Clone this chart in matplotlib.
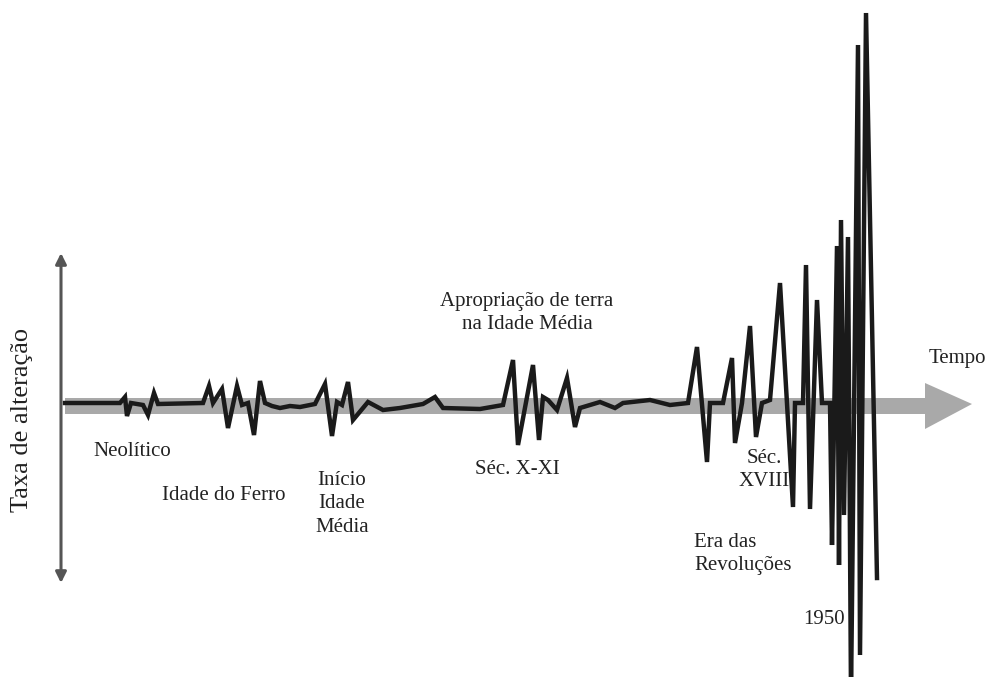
import matplotlib.pyplot as plt

## Data: time position (horizontal) and rate of change (above/below the time axis)
tempo = [65, 120, 125, 127, 131, 143, 148, 154, 158, 203,
         209, 213, 222, 228, 237, 242, 248, 254, 260, 265,
         272, 280, 290, 300, 315, 325, 332, 337, 342, 348,
         353, 368, 383, 400, 423, 435, 443, 480, 503, 513,
         518, 533, 539, 543, 548, 557, 567, 575, 580, 600,
         615, 623, 650, 670, 688, 697, 707, 710, 723, 732,
         735, 742, 750, 756, 762, 770, 780, 793, 795, 803,
         806, 810, 817, 822, 830, 832, 837, 839, 841, 844,
         848, 851, 858, 860, 866, 877]
taxa = [2, 2, 8, -11, 2, 0, -10, 12, 1, 2,
        19, 2, 16, -23, 19, 0, 2, -30, 24, 2,
        -1, -3, -1, -2, 1, 21, -31, 3, 0, 23,
        -15, 3, -5, -3, 1, 8, -3, -4, 0, 45,
        -40, 40, -35, 8, 5, -5, 27, -22, -3, 3,
        -3, 2, 5, 0, 2, 58, -57, 2, 2, 47,
        -38, 2, 79, -32, 2, 5, 122, -102, 2, 2,
        140, -104, 105, 2, 2, -140, 159, -160, 185, -110,
        168, -290, 360, -250, 392, -173]

rotulos = ['Neolítico', 'Idade do Ferro', 'Início\nIdade\nMédia',
           'Apropriação de terra\nna Idade Média', 'Séc. X-XI',
           'Séc.\nXVIII', 'Era das\nRevoluções', '1950', 'Tempo']
rotulo_x = [132, 224, 342, 527, 517, 764, 694, 824, 957]
rotulo_y = [-47, -91, -99, 92, -64, -65, -149, -215, 47]

## Plot
fig = plt.figure(figsize=(9.88, 6.77), dpi=100)
ax = fig.add_axes([0, 0, 1, 1])
ax.set_xlim(0, 988)
ax.set_ylim(-272, 405)
ax.axis('off')

# gray time arrow
corpo = 8
cab = 23
ax.fill([65, 925, 925, 972, 925, 925, 65],
        [-1 + corpo, -1 + corpo, -1 + cab, 1, -1 - cab, -1 - corpo, -1 - corpo],
        color='#a9a9a9', zorder=1, lw=0)

# vertical double arrow
ax.annotate('', xy=(61, 152), xytext=(61, -178),
            arrowprops=dict(arrowstyle='<|-|>', color='#555555', lw=2.2,
                            mutation_scale=16, shrinkA=0, shrinkB=0))

ax.plot(tempo, taxa, color='#1a1a1a', lw=3.2, solid_joinstyle='miter', zorder=2)

fonte = 'Liberation Serif'
for txt, x, y in zip(rotulos, rotulo_x, rotulo_y):
    ha = 'left' if txt.startswith('Era') else 'center'
    ax.text(x, y, txt, ha=ha, va='center', multialignment=ha, family=fonte,
            fontsize=15, linespacing=1.35, color='#222222', zorder=3)

ax.text(22, -15, 'Taxa de alteração', rotation=90, ha='center', va='center',
        family=fonte, fontsize=19, color='#222222')

plt.savefig('out.png', dpi=100)
